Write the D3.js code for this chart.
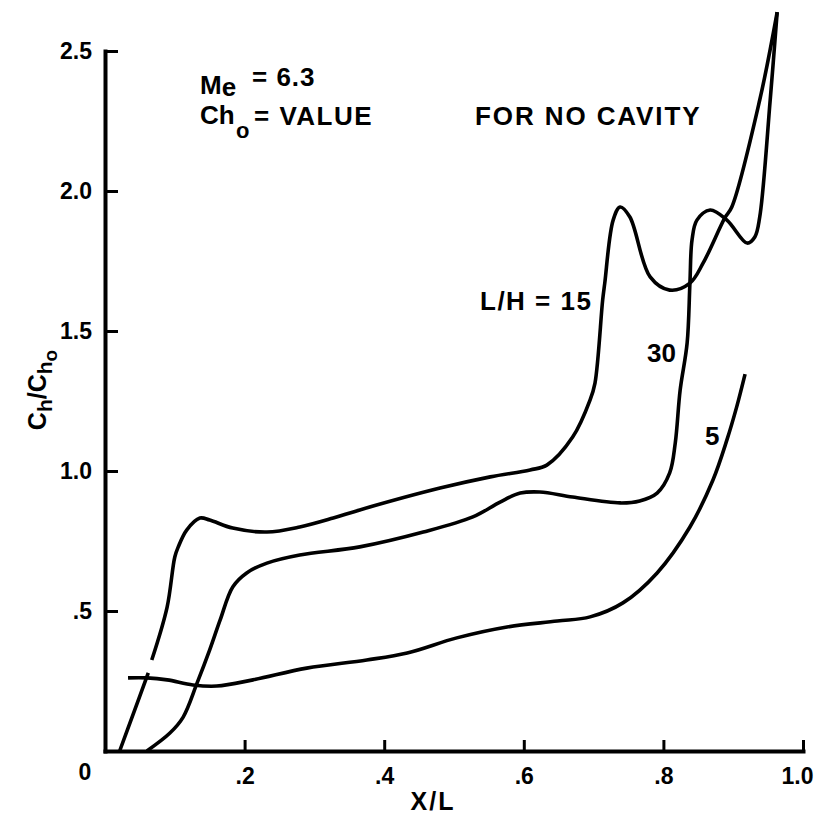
<!DOCTYPE html>
<html><head><meta charset="utf-8">
<script src="https://cdn.jsdelivr.net/npm/d3@7"></script>
<style>
html,body{margin:0;padding:0;background:#fff;}
text{font-family:"Liberation Sans",Arial,Helvetica,sans-serif;font-weight:bold;fill:#000;}
</style></head>
<body><svg id="chart" width="817" height="819"></svg>
<script>
// ---- data ----
const xTickValues = [0.2, 0.4, 0.6, 0.8, 1.0];
const xTickLabels = [".2", ".4", ".6", ".8", "1.0"];
const yTickValues = [0.5, 1.0, 1.5, 2.0, 2.5];
const yTickLabels = [".5", "1.0", "1.5", "2.0", "2.5"];

// L/H = 15 (null marks the small drafting gap)
const lh15X = [0.021,0.040,0.062,0.064,0.067,0.089,0.100,0.105,0.117,0.136,0.150,0.183,0.232,0.279,0.327,0.365,0.480,0.552,0.609,0.633,0.670,0.695,0.702,0.713,0.716,0.728,0.738,0.752,0.781,0.809,0.838,0.857,0.888,0.898,0.938,0.963];
const lh15Y = [0.0,0.129,0.279,null,0.325,0.514,0.693,0.729,0.789,0.832,0.825,0.796,0.782,0.800,0.832,0.861,0.939,0.979,1.004,1.021,1.121,1.254,1.314,1.611,1.671,1.896,1.943,1.907,1.693,1.646,1.671,1.743,1.904,1.943,2.325,2.639];
// L/H = 30
const lh30X = [0.060,0.093,0.112,0.132,0.150,0.165,0.183,0.203,0.232,0.279,0.365,0.456,0.527,0.566,0.595,0.623,0.670,0.738,0.766,0.791,0.809,0.817,0.824,0.834,0.838,0.841,0.848,0.867,0.891,0.920,0.931,0.938,0.953,0.963];
const lh30Y = [0.0,0.064,0.121,0.243,0.361,0.468,0.586,0.636,0.671,0.700,0.729,0.782,0.836,0.889,0.921,0.925,0.907,0.886,0.893,0.921,0.993,1.100,1.289,1.457,1.671,1.825,1.896,1.932,1.896,1.814,1.836,1.907,2.325,2.639];
// L/H = 5
const lh5X = [0.033,0.060,0.089,0.126,0.160,0.212,0.289,0.375,0.433,0.504,0.576,0.648,0.695,0.742,0.791,0.838,0.871,0.891,0.905,0.917];
const lh5Y = [0.261,0.261,0.254,0.236,0.232,0.254,0.296,0.325,0.350,0.404,0.443,0.464,0.479,0.529,0.636,0.800,0.968,1.111,1.229,1.346];

const seriesList = [
  {name:"15", xs:lh15X, ys:lh15Y},
  {name:"30", xs:lh30X, ys:lh30Y},
  {name:"5",  xs:lh5X,  ys:lh5Y}
];

// ---- chart ----
const svg = d3.select("#chart");
const x = d3.scaleLinear().domain([0, 1]).range([105, 803]);
const y = d3.scaleLinear().domain([0, 2.5]).range([751, 51]);

// axes
const xAxis = d3.axisBottom(x).tickValues(xTickValues).tickSizeInner(-11).tickSizeOuter(0)
  .tickFormat((d,i)=>xTickLabels[i]).tickPadding(12);
const yAxis = d3.axisLeft(y).tickValues(yTickValues).tickSizeInner(-13).tickSizeOuter(0)
  .tickFormat((d,i)=>yTickLabels[i]).tickPadding(13);

const gx = svg.append("g").attr("transform",`translate(0,${y(0)})`).call(xAxis);
const gy = svg.append("g").attr("transform",`translate(${x(0)},0)`).call(yAxis);
[gx, gy].forEach(g=>{
  g.select(".domain").attr("stroke","#000").attr("stroke-width",4).attr("stroke-linecap","square");
  g.selectAll(".tick line").attr("stroke","#000").attr("stroke-width",3);
  g.selectAll(".tick text").attr("font-size",23).attr("font-family",null).attr("fill","#000");
});
gx.selectAll(".tick text").attr("dy","0.9em").attr("dx",(d,i)=> i===xTickValues.length-1 ? -6 : 0);

// origin label
svg.append("text").attr("x", x(0)-20).attr("y", y(0)+29).attr("text-anchor","middle")
  .attr("font-size",23).text("0");

// axis titles
svg.append("text").attr("x", 433).attr("y", 810).attr("text-anchor","middle")
  .attr("font-size",25).attr("letter-spacing",2).text("X/L");
const yt = svg.append("text").attr("transform","translate(46,390) rotate(-90)")
  .attr("text-anchor","middle").attr("font-size",25);
yt.append("tspan").text("C");
yt.append("tspan").attr("dy",6).attr("font-size",21).text("h");
yt.append("tspan").attr("dy",-6).text("/C");
yt.append("tspan").attr("dy",6).attr("font-size",21).text("h");
yt.append("tspan").attr("dy",5).attr("font-size",19).text("o");

// curves
const line = d3.line()
  .defined(d => d[1] !== null)
  .x(d => x(d[0])).y(d => y(d[1]))
  .curve(d3.curveCatmullRom.alpha(0.5));
svg.append("g").selectAll("path").data(seriesList).join("path")
  .attr("d", s => line(s.xs.map((v,i)=>[v, s.ys[i]])))
  .attr("fill","none").attr("stroke","#000").attr("stroke-width",3.6)
  .attr("stroke-linejoin","round").attr("stroke-linecap","butt");

// curve labels
svg.append("text").attr("x",480).attr("y",310).attr("font-size",26).attr("letter-spacing",1.5).text("L/H = 15");
svg.append("text").attr("x",647).attr("y",362).attr("font-size",26).text("30");
svg.append("text").attr("x",705).attr("y",445).attr("font-size",26).text("5");

// header annotations
const a1 = svg.append("text").attr("font-size",26);
a1.append("tspan").attr("x",200).attr("y",94).text("M");
a1.append("tspan").attr("y",96).text("e");
a1.append("tspan").attr("x",252).attr("y",86).attr("letter-spacing",1).text("= 6.3");
const a2 = svg.append("text").attr("font-size",26);
a2.append("tspan").attr("x",200).attr("y",124).text("Ch");
a2.append("tspan").attr("x",236).attr("y",138).attr("font-size",22).text("o");
a2.append("tspan").attr("x",254).attr("y",125).attr("letter-spacing",1.5).text("= VALUE");
svg.append("text").attr("x",475).attr("y",125).attr("font-size",26).attr("letter-spacing",1.9).text("FOR NO CAVITY");
</script>
</body></html>
